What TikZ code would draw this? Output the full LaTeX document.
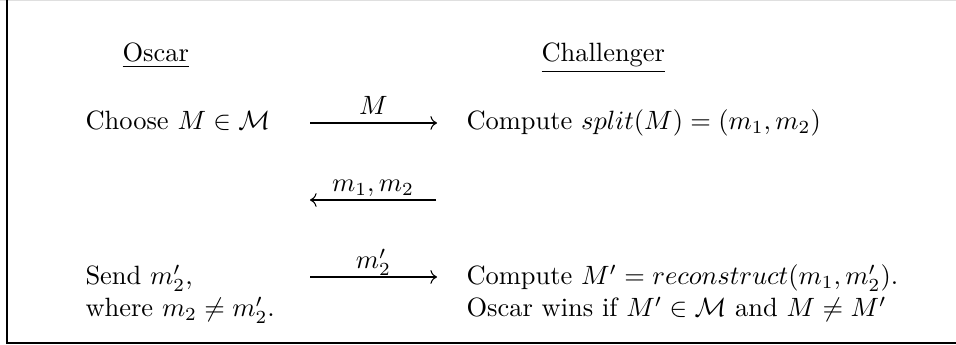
\documentclass[tikz,border=0pt]{standalone}
\usepackage{amsmath,amssymb,amsfonts}
\usepackage{xcolor}
\usepackage{tikz}
\usetikzlibrary{arrows.meta}

\begin{document}
\begin{tikzpicture}[x=0.378pt, y=-0.378pt, >=To,
  txt/.style={anchor=base west, inner sep=0pt},
  lbl/.style={midway, anchor=base, inner sep=0pt, yshift=3.1pt},
  msg/.style={->, line width=0.4pt},
  frame/.style={line width=0.5pt}]
\useasboundingbox (0,0) rectangle (956,345);
\draw[gray!25, line width=0.6pt] (0,0.6) -- (956,0.6);
\draw[frame] (7,0) -- (7,343) -- (956,343);

\node[txt] (osc)  at (122,62)  {\underline{Oscar}};
\node[txt] (chal) at (541,62)  {\underline{Challenger}};
\node[txt] (choose)  at (85,130)  {Choose $M \in \mathcal{M}$};
\node[txt] (split)   at (466,130) {Compute $split(M) = (m_1, m_2)$};
\node[txt] (send)    at (85,285)  {Send $m_2'$,};
\node[txt] (where)   at (85,317)  {where $m_2 \neq m_2'$.};
\node[txt] (recon)   at (466,285) {Compute $M' = reconstruct(m_1, m_2')$.};
\node[txt] (wins)    at (466,317) {Oscar wins if $M' \in \mathcal{M}$ and $M \neq M'$};

\coordinate (a1s) at (310,123);
\coordinate (a1e) at (437,123);
\coordinate (a2s) at (436,200);
\coordinate (a2e) at (310,200);
\coordinate (a3s) at (310,277);
\coordinate (a3e) at (437,277);

\draw[msg] (a1s) -- node[lbl] (lM) {$M$} (a1e);
\draw[msg] (a2s) -- node[lbl] (lmm) {$m_1, m_2$} (a2e);
\draw[msg] (a3s) -- node[lbl] (lm2) {$m_2'$} (a3e);
\end{tikzpicture}
\end{document}
